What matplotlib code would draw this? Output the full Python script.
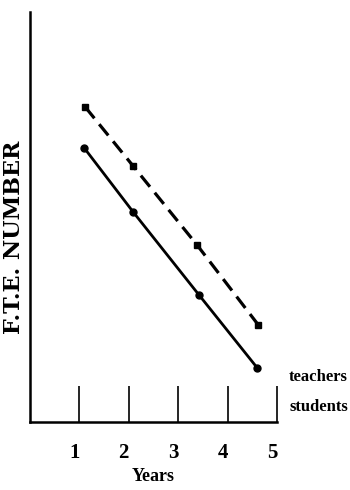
import matplotlib
matplotlib.use("Agg")
import matplotlib.pyplot as plt
import matplotlib.transforms as mtrans

# values (y in arbitrary F.T.E. units, 0..10)
years_teachers = [1.12, 2.09, 3.38, 4.62]
fte_teachers = [7.68, 6.24, 4.32, 2.37]
years_students = [1.10, 2.09, 3.42, 4.60]
fte_students = [6.68, 5.12, 3.10, 1.32]
xticks = [1, 2, 3, 4, 5]

plt.rcParams['font.family'] = ['Liberation Serif', 'DejaVu Serif']

fig = plt.figure(figsize=(3.5, 4.9), dpi=100)
ax = fig.add_axes([30/350, 68/490, 247/350, 410/490])

ax.plot(years_teachers, fte_teachers, color='black', lw=2.3, ls=(0, (4.5, 2.4)),
        marker='s', ms=5)
ax.plot(years_students, fte_students, color='black', lw=2.0, ls='-',
        marker='o', ms=5)

ax.set_xlim(0, 5)
ax.set_ylim(0, 10)
ax.set_xticks(xticks)
ax.set_xticklabels([str(t) for t in xticks], fontweight='bold', fontsize=15)
ax.set_yticks([])
ax.tick_params(axis='x', direction='in', length=26, width=1.2, pad=15)
# labels sit a little left of their ticks in the original
shift = mtrans.ScaledTranslation(-5/100, 0, fig.dpi_scale_trans)
for lab in ax.get_xticklabels():
    lab.set_transform(lab.get_transform() + shift)

for s in ['top', 'right']:
    ax.spines[s].set_visible(False)
ax.spines['left'].set_linewidth(1.8)
ax.spines['bottom'].set_linewidth(1.8)

ax.set_xlabel('Years', fontweight='bold', fontsize=13, labelpad=4)
fig.text(14/350, 1 - 237/490, 'F.T.E. NUMBER', rotation=90, ha='center', va='center',
         fontweight='bold', fontsize=16, family='DejaVu Serif')

fig.text(289/350, 1 - 377/490, 'teachers', ha='left', va='center',
         fontweight='bold', fontsize=12)
fig.text(289/350, 1 - 407/490, 'students', ha='left', va='center',
         fontweight='bold', fontsize=12)

fig.savefig('out.png', dpi=100)
